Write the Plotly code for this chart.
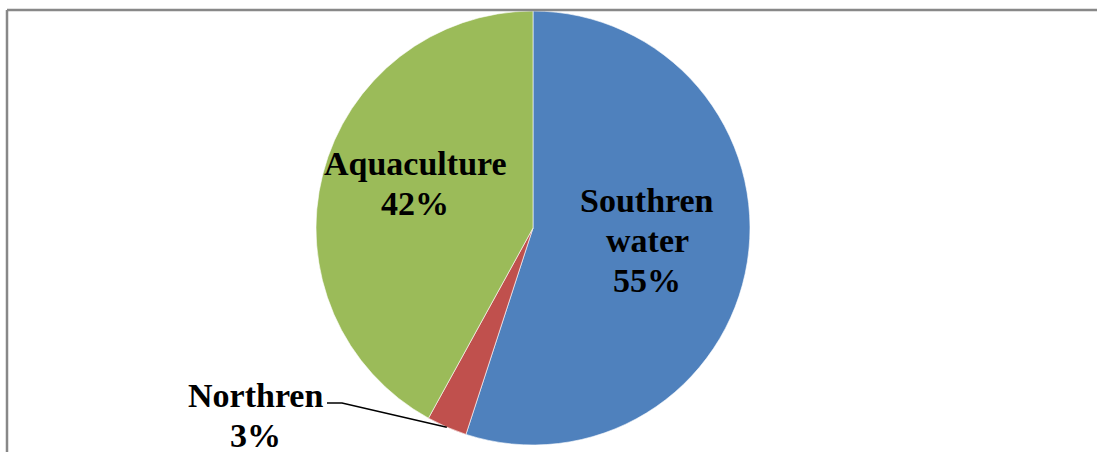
import math
import plotly.graph_objects as go

# Catch composition by source
categories = ["Southren water", "Northren", "Aquaculture"]
shares = [55, 3, 42]
colors = ["#4F81BD", "#C0504D", "#9BBB59"]

W, H = 1097, 452
CX, CY, R = 533, 228, 217  # pie centre and radius in pixels

def px(x):
    return x / W

def py(y):
    return 1 - y / H

fig = go.Figure(
    go.Pie(
        labels=categories,
        values=shares,
        sort=False,
        direction="clockwise",
        rotation=0,
        marker=dict(colors=colors, line=dict(color="#FFFFFF", width=0.6)),
        textinfo="none",
        hoverinfo="label+percent",
        showlegend=False,
        domain=dict(x=[px(CX - R), px(CX + R)], y=[py(CY + R), py(CY - R)]),
    )
)

# Slice mid-angles (degrees clockwise from 12 o'clock)
total = sum(shares)
mids = []
acc = 0
for v in shares:
    mids.append((acc + v / 2) / total * 360)
    acc += v

def polar(frac, ang):
    a = math.radians(ang)
    return CX + frac * R * math.sin(a), CY - frac * R * math.cos(a)

font = dict(family="Liberation Serif, Times New Roman, serif", size=34, color="#000000")
LINE = 40

def text_block(lines, x, y, tight_last=False):
    n = len(lines)
    for i, t in enumerate(lines):
        yy = y + (i - (n - 1) / 2) * LINE
        extra = dict(height=30, borderpad=0) if (tight_last and i == n - 1) else {}
        fig.add_annotation(x=px(x), y=py(yy), xref="paper", yref="paper",
                           text=f"<b>{t}</b>", showarrow=False, font=font,
                           xanchor="center", yanchor="middle", **extra)

# Inside labels: radial placement within each slice
pct = [f"{v}%" for v in shares]
bx, by = polar(0.53, mids[0] - 3)
text_block(["Southren", "water", pct[0]], bx, by)
gx, gy = polar(0.58, mids[2] + 6.5)
text_block(["Aquaculture", pct[2]], gx, gy)

# Outside label with leader line for the small slice
tx, ty = polar(1.0, mids[1])
lx, ly = 255, 415
text_block(["Northren", pct[1]], lx, ly, tight_last=True)
elbow_y = ly - 12
fig.add_shape(type="path", xref="paper", yref="paper",
              path=f"M {px(lx + 72)} {py(elbow_y)} L {px(lx + 87)} {py(elbow_y)} L {px(tx)} {py(ty)}",
              line=dict(color="#000000", width=1.5))

# Chart area frame (top and left edges)
frame = dict(color="#888888", width=2.5)
fig.add_shape(type="line", xref="paper", yref="paper",
              x0=px(7), y0=py(10), x1=1, y1=py(10), line=frame)
fig.add_shape(type="line", xref="paper", yref="paper",
              x0=px(7), y0=py(10), x1=px(7), y1=0, line=frame)

fig.update_layout(
    width=W, height=H,
    margin=dict(l=0, r=0, t=0, b=0),
    paper_bgcolor="#FFFFFF",
    plot_bgcolor="#FFFFFF",
)

fig.write_html("out.html")
